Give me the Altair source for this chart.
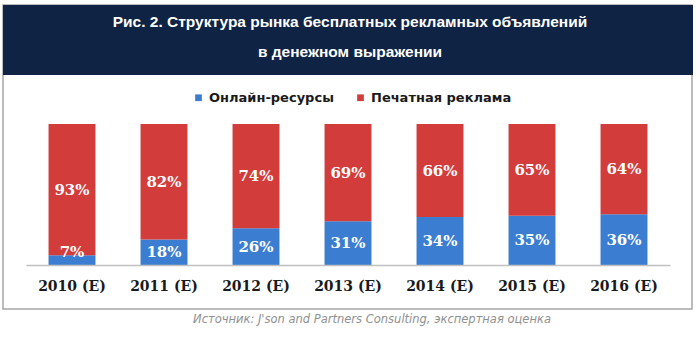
import altair as alt
import pandas as pd

years = ["2010 (E)", "2011 (E)", "2012 (E)", "2013 (E)", "2014 (E)", "2015 (E)", "2016 (E)"]
online = [7, 18, 26, 31, 34, 35, 36]
printed = [93, 82, 74, 69, 66, 65, 64]
series = ["Онлайн-ресурсы", "Печатная реклама"]
colors = ["#3b7dd0", "#d23c3a"]

title1 = "Рис. 2. Структура рынка бесплатных рекламных объявлений"
title2 = "в денежном выражении"
source_text = "Источник: J'son and Partners Consulting, экспертная оценка"

rows = []
for i, yr in enumerate(years):
    rows.append({"year": yr, "series": series[0], "value": online[i], "ord": 0,
                 "mid": max(online[i] / 2, 9), "label": f"{online[i]}%"})
    rows.append({"year": yr, "series": series[1], "value": printed[i], "ord": 1,
                 "mid": online[i] + printed[i] / 2, "label": f"{printed[i]}%"})
df = pd.DataFrame(rows)

one = alt.Data(values=[{"a": 1}])

frame = alt.Chart(one).mark_rect(filled=False, stroke="#a6a6a6", strokeWidth=1.5).encode(
    x=alt.value(-23), x2=alt.value(666), y=alt.value(-119), y2=alt.value(185))
header = alt.Chart(one).mark_rect(fill="#0f2344").encode(
    x=alt.value(-23), x2=alt.value(667), y=alt.value(-119), y2=alt.value(-49))
t1 = alt.Chart(one).mark_text(text=title1, font="Liberation Sans",
                              fontSize=15.5, fontWeight="bold", color="white").encode(
    x=alt.value(324), y=alt.value(-102))
t2 = alt.Chart(one).mark_text(text=title2, font="Liberation Sans",
                              fontSize=15.5, fontWeight="bold", color="white").encode(
    x=alt.value(324), y=alt.value(-72))
src = alt.Chart(one).mark_text(text=source_text, font="DejaVu Sans", fontSize=11.5,
                               fontStyle="italic", color="#909090").encode(
    x=alt.value(346), y=alt.value(196))

xenc = alt.X("year:N", sort=years, title=None,
             scale=alt.Scale(paddingInner=0.49, paddingOuter=0.245),
             axis=alt.Axis(labelAngle=0, labelFont="DejaVu Serif", labelFontSize=14,
                           labelFontWeight="bold", labelColor="#1a1a1a", labelPadding=14,
                           ticks=False, domainColor="#c0c0c0", domainWidth=1.5, zindex=1))

bars = alt.Chart(df).mark_bar().encode(
    x=xenc,
    y=alt.Y("value:Q", stack="zero", scale=alt.Scale(domain=[0, 100]), axis=None),
    color=alt.Color("series:N", scale=alt.Scale(domain=series, range=colors),
                    legend=alt.Legend(title=None, orient="none", legendX=166, legendY=-33,
                                      direction="horizontal", symbolType="square",
                                      symbolSize=45, symbolStrokeWidth=0,
                                      labelFont="DejaVu Sans", labelFontWeight="bold",
                                      labelFontSize=13, labelColor="#1a1a1a",
                                      columnPadding=20, labelOffset=4)),
    order=alt.Order("ord:Q"))

labels = alt.Chart(df).mark_text(font="DejaVu Serif", fontSize=15, fontWeight="bold",
                                 color="white", baseline="middle").encode(
    x=alt.X("year:N", sort=years),
    y=alt.Y("mid:Q"),
    text="label:N")

chart = alt.layer(frame, header, t1, t2, bars, labels, src).properties(
    width=644, height=141,
    padding={"left": 26, "top": 124, "right": 30, "bottom": 89},
    autosize=alt.AutoSizeParams(type="none"),
    background="white",
).configure_view(stroke=None)

chart.save("out.html", embed_options={"renderer": "svg", "actions": False})
